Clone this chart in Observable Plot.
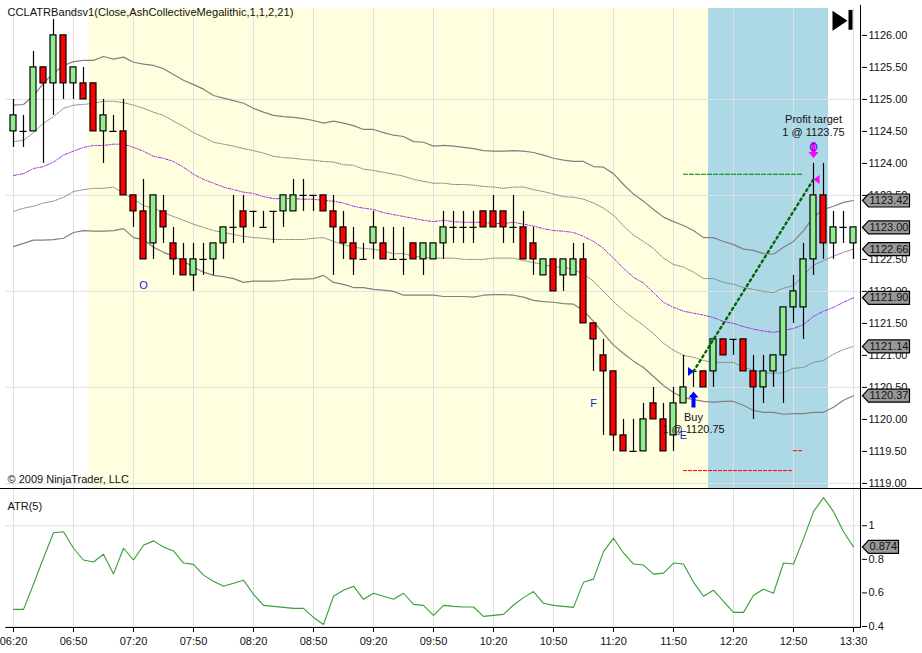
<!DOCTYPE html>
<html><head><meta charset="utf-8">
<style>html,body{margin:0;padding:0;background:#fff}svg{display:block}#c{width:922px;height:653px;overflow:hidden}</style>
<script src="https://cdn.jsdelivr.net/npm/d3@7"></script>
<script src="https://cdn.jsdelivr.net/npm/@observablehq/plot@0.6"></script>
</head><body><div id="c"></div>
<script>
const barOpen=[1124.5,1124.5,1124.5,1125.5,1125.25,1126,1125.25,1125.25,1125.25,1124.5,1124.5,1124.5,1123.5,1123.25,1122.75,1123.25,1122.75,1122.5,1122.25,1122.5,1122.5,1122.75,1123,1123.25,1123.25,1123,1123.25,1123.25,1123.25,1123.5,1123.5,1123.5,1123.25,1123,1122.75,1122.5,1122.75,1122.75,1122.5,1122.5,1122.75,1122.5,1122.5,1122.75,1123,1123,1123,1123.25,1123.25,1123.25,1123,1123,1122.75,1122.25,1122.5,1122.25,1122.25,1122.5,1121.5,1121,1120.75,1119.75,1119.5,1119.5,1120.25,1120,1119.75,1120.25,1120.75,1120.75,1120.75,1121.25,1121.25,1121.25,1120.75,1120.5,1120.75,1121,1121.75,1121.75,1122.5,1123.5,1122.75,1123,1122.75];
const barHigh=[1125,1124.75,1125.75,1125.5,1126.25,1126,1125.5,1125.5,1125.25,1125,1124.75,1125,1123.5,1123.75,1123.5,1123.5,1123,1122.75,1122.75,1122.75,1122.75,1123,1123.5,1123.5,1123.25,1123.25,1123.25,1123.5,1123.75,1123.75,1123.5,1123.5,1123.5,1123.25,1123,1122.75,1123.25,1123,1123,1123,1122.75,1122.75,1122.75,1123.25,1123.25,1123.25,1123.25,1123.25,1123.5,1123.25,1123.5,1123.25,1123,1122.5,1122.5,1122.5,1122.75,1122.75,1121.5,1121.25,1120.75,1120,1120,1120.25,1120.5,1120.25,1120.5,1121,1120.75,1120.75,1121.25,1121.25,1121.25,1121.25,1121,1121,1121,1121.75,1122.25,1122.75,1124,1124,1123.25,1123.25,1123];
const barLow=[1124.25,1124.25,1124.5,1124,1124.75,1125,1125,1125,1124.5,1124,1124.5,1123.5,1123,1122.5,1122.5,1122.75,1122.25,1122.25,1122,1122.25,1122.25,1122.5,1122.75,1122.75,1123,1123,1122.75,1123,1123.25,1123.25,1123.25,1123.25,1122.25,1122.5,1122.25,1122.5,1122.5,1122.5,1122.5,1122.25,1122.5,1122.25,1122.5,1122.5,1122.75,1122.75,1122.75,1123,1123,1122.75,1122.75,1122.5,1122.25,1122.25,1122,1122,1122.25,1121.5,1120.75,1119.75,1119.5,1119.5,1119.5,1119.5,1120,1119.5,1119.5,1120.25,1120.5,1120.5,1120.5,1121,1121,1120.75,1120,1120.25,1120.5,1120.25,1121.5,1121.25,1122.25,1122.5,1122.5,1122.75,1122.5];
const barClose=[1124.75,1124.5,1125.5,1125.25,1126,1125.25,1125.5,1125,1124.5,1124.75,1124.5,1123.5,1123.25,1122.5,1123.5,1123,1122.5,1122.25,1122.5,1122.5,1122.75,1123,1123,1123,1123.25,1123,1123.25,1123.5,1123.5,1123.5,1123.5,1123.25,1123,1122.75,1122.5,1122.5,1123,1122.5,1122.5,1122.5,1122.5,1122.75,1122.75,1123,1123,1123,1123,1123,1123,1123,1123,1122.5,1122.5,1122.5,1122,1122.5,1122.5,1121.5,1121.25,1120.75,1119.75,1119.5,1119.5,1120,1120,1119.5,1120.25,1120.5,1120.75,1120.5,1121.25,1121,1121.25,1120.75,1120.5,1120.75,1121,1121.75,1122,1122.5,1123.5,1122.75,1123,1123,1123];
const bandUpper=[1124.91,1124.92,1125.06,1125.25,1125.41,1125.53,1125.59,1125.61,1125.61,1125.67,1125.63,1125.66,1125.58,1125.55,1125.53,1125.48,1125.39,1125.30,1125.23,1125.16,1125.06,1125.02,1124.98,1124.94,1124.86,1124.80,1124.75,1124.73,1124.72,1124.70,1124.67,1124.63,1124.66,1124.63,1124.59,1124.53,1124.53,1124.48,1124.44,1124.42,1124.34,1124.33,1124.27,1124.28,1124.27,1124.25,1124.23,1124.20,1124.19,1124.19,1124.20,1124.19,1124.17,1124.13,1124.08,1124.05,1124.03,1124.03,1123.95,1123.94,1123.84,1123.67,1123.52,1123.41,1123.28,1123.16,1123.09,1123.03,1122.95,1122.84,1122.84,1122.78,1122.73,1122.66,1122.64,1122.59,1122.58,1122.69,1122.78,1122.95,1123.16,1123.28,1123.33,1123.39,1123.42];
const bandUpperInner=[1124.34,1124.36,1124.48,1124.63,1124.73,1124.86,1124.91,1124.92,1124.94,1124.97,1124.97,1124.95,1124.91,1124.86,1124.80,1124.75,1124.66,1124.58,1124.48,1124.41,1124.33,1124.30,1124.27,1124.23,1124.20,1124.16,1124.11,1124.09,1124.08,1124.06,1124.05,1124.03,1124.02,1123.98,1123.97,1123.91,1123.89,1123.86,1123.83,1123.80,1123.75,1123.72,1123.69,1123.69,1123.67,1123.67,1123.66,1123.64,1123.63,1123.61,1123.63,1123.63,1123.59,1123.56,1123.52,1123.48,1123.47,1123.44,1123.38,1123.30,1123.19,1123.02,1122.88,1122.78,1122.67,1122.52,1122.42,1122.38,1122.30,1122.20,1122.20,1122.14,1122.11,1122.06,1122.03,1122.00,1121.98,1122.05,1122.09,1122.25,1122.41,1122.48,1122.55,1122.61,1122.66];
const bandMiddle=[1123.81,1123.84,1123.92,1123.95,1124.02,1124.13,1124.19,1124.25,1124.28,1124.28,1124.30,1124.30,1124.25,1124.19,1124.11,1124.08,1124.03,1123.94,1123.83,1123.75,1123.69,1123.63,1123.59,1123.55,1123.53,1123.48,1123.45,1123.45,1123.45,1123.44,1123.44,1123.42,1123.41,1123.38,1123.33,1123.30,1123.28,1123.23,1123.20,1123.17,1123.14,1123.11,1123.09,1123.11,1123.09,1123.08,1123.08,1123.08,1123.06,1123.06,1123.08,1123.05,1123.02,1122.98,1122.95,1122.94,1122.92,1122.86,1122.78,1122.67,1122.52,1122.36,1122.22,1122.13,1121.98,1121.83,1121.75,1121.69,1121.66,1121.63,1121.59,1121.53,1121.50,1121.45,1121.41,1121.38,1121.36,1121.39,1121.42,1121.48,1121.61,1121.69,1121.75,1121.83,1121.90];
const bandLowerInner=[1123.25,1123.30,1123.33,1123.38,1123.41,1123.47,1123.56,1123.59,1123.61,1123.61,1123.63,1123.53,1123.44,1123.34,1123.30,1123.23,1123.17,1123.11,1123.05,1123.00,1122.95,1122.92,1122.89,1122.86,1122.84,1122.83,1122.81,1122.81,1122.81,1122.81,1122.83,1122.84,1122.78,1122.73,1122.69,1122.67,1122.66,1122.63,1122.59,1122.59,1122.55,1122.53,1122.52,1122.52,1122.52,1122.50,1122.50,1122.50,1122.52,1122.52,1122.52,1122.48,1122.45,1122.42,1122.38,1122.38,1122.34,1122.27,1122.16,1122.00,1121.84,1121.70,1121.58,1121.47,1121.34,1121.19,1121.08,1121.00,1120.97,1120.92,1120.89,1120.89,1120.89,1120.81,1120.77,1120.73,1120.72,1120.73,1120.80,1120.81,1120.89,1120.92,1121.02,1121.09,1121.14];
const bandLower=[1122.70,1122.75,1122.80,1122.80,1122.81,1122.83,1122.92,1122.95,1122.94,1122.94,1122.95,1122.98,1122.84,1122.81,1122.69,1122.61,1122.55,1122.47,1122.38,1122.30,1122.25,1122.23,1122.20,1122.14,1122.16,1122.16,1122.16,1122.17,1122.19,1122.19,1122.20,1122.25,1122.14,1122.11,1122.06,1122.06,1122.03,1122.02,1122.00,1121.94,1121.94,1121.94,1121.94,1121.92,1121.92,1121.92,1121.91,1121.94,1121.95,1121.95,1121.94,1121.91,1121.86,1121.84,1121.83,1121.81,1121.80,1121.70,1121.53,1121.34,1121.16,1121.03,1120.91,1120.81,1120.67,1120.53,1120.42,1120.34,1120.31,1120.28,1120.27,1120.28,1120.28,1120.22,1120.14,1120.11,1120.11,1120.08,1120.09,1120.09,1120.11,1120.11,1120.19,1120.30,1120.37];
const atrValues=[.502,.502,.652,.808,.958,.964,.866,.796,.784,.83,.712,.866,.796,.884,.91,.874,.85,.778,.77,.706,.67,.64,.658,.676,.592,.526,.52,.514,.508,.508,.454,.412,.58,.616,.64,.562,.598,.58,.562,.598,.532,.526,.466,.526,.52,.516,.516,.46,.466,.472,.528,.572,.608,.538,.526,.52,.514,.664,.682,.846,.926,.838,.772,.766,.712,.718,.778,.772,.664,.58,.616,.55,.484,.484,.586,.622,.598,.778,.772,.922,1.084,1.168,1.084,.964,.874];
const timeTickBars=[0,6,12,18,24,30,36,42,48,54,60,66,72,78,84];
const timeTickLabels=["06:20","06:50","07:20","07:50","08:20","08:50","09:20","09:50","10:20","10:50","11:20","11:50","12:20","12:50","13:30"];
const priceTicks=[1119,1119.5,1120,1120.5,1121,1121.5,1122,1122.5,1123,1123.5,1124,1124.5,1125,1125.5,1126];
const priceGrid=[1119,1120.5,1122,1123.5,1125];
const priceFlags=[1123.42,1123.00,1122.66,1121.90,1121.14,1120.37];
const atrTicks=[.4,.6,.8,1];
const atrGrid=[.4,1];
const atrFlag=[.874];
const plainLetters=[{t:"O",i:13,p:1122.1},{t:"F",i:58,p:1120.25},{t:"E",i:67,p:1119.75}];
const notes=[{t:"Buy",i:68,p:1120.03},{t:"1 @ 1120.75",i:68,p:1119.84},{t:"Profit target",i:80,p:1124.68},{t:"1 @ 1123.75",i:80,p:1124.49}];

const idx=d3.range(barClose.length);
const W=922,xDom=[-1.3,84.8],xMax=90.9;
const gridX=[-0.77,84.75];
const greenBars=idx.filter(i=>barClose[i]>barOpen[i]),redBars=idx.filter(i=>barClose[i]<barOpen[i]),flatBars=idx.filter(i=>barClose[i]===barOpen[i]);
const flagSymbol=w=>({draw(c){c.moveTo(0,0);c.lineTo(6,-6.5);c.lineTo(w,-6.5);c.lineTo(w,6.5);c.lineTo(6,6.5);c.closePath();}});
const triRight={draw(c){c.moveTo(-3,-4.5);c.lineTo(3,0);c.lineTo(-3,4.5);c.closePath();}};
const triLeft={draw(c){c.moveTo(3,-4.5);c.lineTo(-3,0);c.lineTo(3,4.5);c.closePath();}};
const bigTri={draw(c){c.moveTo(-7.5,-10);c.lineTo(7.5,0);c.lineTo(-7.5,10);c.closePath();}};
const arrowUp={draw(c){c.moveTo(0,-8);c.lineTo(5,-2);c.lineTo(2,-2);c.lineTo(2,8);c.lineTo(-2,8);c.lineTo(-2,-2);c.lineTo(-5,-2);c.closePath();}};
const arrowDown={draw(c){c.moveTo(0,8);c.lineTo(5,2);c.lineTo(2,2);c.lineTo(2,-8);c.lineTo(-2,-8);c.lineTo(-2,2);c.lineTo(-5,2);c.closePath();}};
const font="'Liberation Sans',Arial,sans-serif";
const ink="#111";
const gridC="#e0e0e0";
const style={fontFamily:font,fontSize:"11px",background:"transparent",overflow:"visible"};

const priceChart=Plot.plot({width:W,height:489,marginTop:8,marginBottom:1,marginLeft:0,marginRight:61,style,
 x:{domain:xDom,axis:null},y:{domain:[1118.92,1126.42],axis:null},
 marks:[
  Plot.rect([0],{x1:7.5,x2:69.5,y1:1118.92,y2:1126.42,fill:"#ffffe0"}),
  Plot.rect([0],{x1:69.5,x2:81.5,y1:1118.92,y2:1126.42,fill:"#add8e6"}),
  Plot.ruleY(priceGrid,{x1:gridX[0],x2:gridX[1],stroke:gridC}),
  Plot.ruleX(timeTickBars,{y1:1118.92,y2:1126.42,stroke:gridC}),
  Plot.line(idx,{x:i=>i,y:i=>bandUpper[i],stroke:"#808080",strokeWidth:1.2}),
  Plot.line(idx,{x:i=>i,y:i=>bandLower[i],stroke:"#808080",strokeWidth:1.2}),
  Plot.line(idx,{x:i=>i,y:i=>bandUpperInner[i],stroke:"#808080",strokeWidth:1,strokeDasharray:"1 1.2"}),
  Plot.line(idx,{x:i=>i,y:i=>bandLowerInner[i],stroke:"#808080",strokeWidth:1,strokeDasharray:"1 1.2"}),
  Plot.line(idx,{x:i=>i,y:i=>bandMiddle[i],stroke:"#a030e0",strokeWidth:1,strokeDasharray:"3 1.5 1 1.5"}),
  Plot.ruleX(idx,{x:i=>i,y1:i=>barLow[i],y2:i=>barHigh[i],stroke:"#000",strokeWidth:1.2}),
  Plot.rect(greenBars,{x1:i=>i-.3,x2:i=>i+.3,y1:i=>barOpen[i],y2:i=>barClose[i],fill:"#90ee90",stroke:"#000",strokeWidth:1.2}),
  Plot.rect(redBars,{x1:i=>i-.3,x2:i=>i+.3,y1:i=>barOpen[i],y2:i=>barClose[i],fill:"#ff0000",stroke:"#000",strokeWidth:1.2}),
  Plot.ruleY(flatBars,{y:i=>barClose[i],x1:i=>i-.36,x2:i=>i+.36,stroke:"#000",strokeWidth:1.2}),
  Plot.ruleY([1123.83],{x1:67,x2:79,stroke:"#008000",strokeDasharray:"5 1"}),
  Plot.ruleY([1119.2],{x1:67,x2:78,stroke:"#ff0000",strokeDasharray:"4 1"}),
  Plot.ruleY([1119.51],{x1:78,x2:79,stroke:"#ff0000",strokeDasharray:"4 1"}),
  Plot.line([[68,1120.75],[80,1123.75]],{stroke:"#006400",strokeWidth:2.4,strokeDasharray:"2 3.6"}),
  Plot.dot([[68,1120.75]],{x:d=>d[0],y:d=>d[1],dx:-2.5,r:3,symbol:triRight,fill:"#0000ff",stroke:"none"}),
  Plot.dot([[68,1120.31]],{x:d=>d[0],y:d=>d[1],r:3,symbol:arrowUp,fill:"#0000ff",stroke:"none"}),
  Plot.dot([[80,1123.75]],{x:d=>d[0],y:d=>d[1],dx:3,r:3,symbol:triLeft,fill:"#ff00ff",stroke:"none"}),
  Plot.dot([[80,1124.21]],{x:d=>d[0],y:d=>d[1],r:3,symbol:arrowDown,fill:"#ff00ff",stroke:"none"}),
  Plot.text(plainLetters.concat([{t:"O",i:80,p:1124.25}]),{x:"i",y:"p",text:"t",fill:"#2020e0",fontSize:11}),
  Plot.text(notes,{x:"i",y:"p",text:"t",fill:ink,fontSize:11}),
  Plot.ruleY([1118.92],{x1:xDom[0],x2:xMax,stroke:"#000"}),
  Plot.axisY(priceTicks,{anchor:"right",label:null,tickFormat:d3.format(".2f"),tickSize:5,tickPadding:2,fill:ink,fontSize:11,textAnchor:"start"}),
  Plot.ruleX([84.8],{y1:1118.92,y2:1126.47,stroke:"#000",dx:-1}),
  Plot.dot(priceFlags,{x:84.8,y:d=>d,dx:1,r:3,symbol:flagSymbol(47),fill:"#999",stroke:"#000",strokeWidth:1.2}),
  Plot.text(priceFlags,{x:84.8,y:d=>d,dx:8,text:d=>d.toFixed(2),textAnchor:"start",fill:ink,fontSize:11}),
  Plot.dot([[83,1126.23]],{x:d=>d[0],y:d=>d[1],dx:-3.5,r:3,symbol:bigTri,fill:"#000",stroke:"none"}),
  Plot.ruleX([83.7],{y1:1126.08,y2:1126.39,stroke:"#000",strokeWidth:4}),
  Plot.text(["CCLATRBandsv1(Close,AshCollectiveMegalithic,1,1,2,21)"],{frameAnchor:"top-left",dx:7,dy:0,lineAnchor:"top",text:d=>d,fill:ink,fontSize:11.1}),
  Plot.text(["© 2009 NinjaTrader, LLC"],{frameAnchor:"bottom-left",dx:7,dy:-6,lineAnchor:"bottom",text:d=>d,fill:ink,fontSize:11})
 ]});

const atrChart=Plot.plot({width:W,height:164,marginTop:0,marginBottom:26,marginLeft:0,marginRight:61,style,
 x:{domain:xDom,axis:null},y:{domain:[.394,1.216],axis:null},
 marks:[
  Plot.ruleY(atrGrid,{x1:gridX[0],x2:gridX[1],stroke:gridC}),
  Plot.ruleX(timeTickBars,{y1:.394,y2:1.216,stroke:gridC}),
  Plot.line(idx,{x:i=>i,y:i=>atrValues[i],stroke:"#35a035",strokeWidth:1.1}),
  Plot.ruleY([.394],{x1:gridX[0],x2:xDom[1],stroke:"#000"}),
  Plot.ruleX([84.8],{y1:.394,y2:1.216,stroke:"#000",dx:-1}),
  Plot.axisY(atrTicks,{anchor:"right",label:null,tickFormat:d=>d,tickSize:5,tickPadding:2,fill:ink,fontSize:11,textAnchor:"start"}),
  Plot.axisX(timeTickBars,{anchor:"bottom",label:null,tickFormat:i=>timeTickLabels[timeTickBars.indexOf(i)],tickSize:5,tickPadding:5,fill:ink,fontSize:11}),
  Plot.dot(atrFlag,{x:84.8,y:d=>d,dx:1,r:3,symbol:flagSymbol(36),fill:"#999",stroke:"#000",strokeWidth:1.2}),
  Plot.text(atrFlag,{x:84.8,y:d=>d,dx:8,text:d=>d.toFixed(3),textAnchor:"start",fill:ink,fontSize:11}),
  Plot.text(["ATR(5)"],{frameAnchor:"top-left",dx:7,dy:13,lineAnchor:"top",text:d=>d,fill:ink,fontSize:11})
 ]});
document.getElementById("c").append(priceChart,atrChart);
</script></body></html>
